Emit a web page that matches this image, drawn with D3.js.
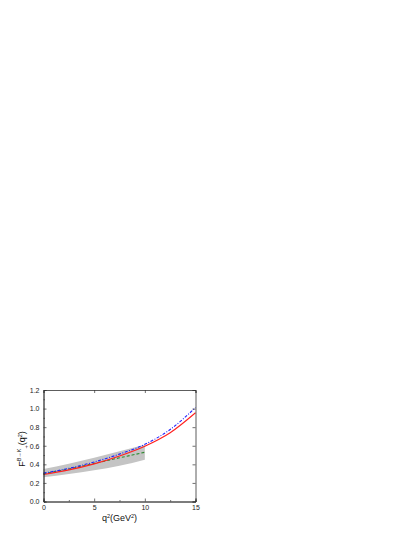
<!DOCTYPE html>
<meta charset="utf-8">
<style>
body { margin: 0; background: #fff; }
text { font-family: "Liberation Sans", Arial, sans-serif; }
</style>
<body>
<script src="https://d3js.org/d3.v7.min.js"></script>
<script>

// data
var q2 = [0, 2.5, 5, 7.5, 10, 12.5, 15];
var red = [0.29, 0.34, 0.405, 0.49, 0.595, 0.74, 0.955];
var blue = [0.305, 0.357, 0.425, 0.51, 0.615, 0.775, 1.01];
var q2short = [0, 2.5, 5, 7.5, 10];
var green = [0.30, 0.35, 0.41, 0.47, 0.53];
var bandHi = [0.35, 0.405, 0.47, 0.54, 0.61];
var bandLo = [0.26, 0.295, 0.335, 0.385, 0.45];
var xTicks = [0, 5, 10, 15];
var yTicks = [0, 0.2, 0.4, 0.6, 0.8, 1.0, 1.2];

var margin = {top: 390, left: 43.5},
    width = 152, height = 111.5;

var svg = d3.select("body").append("svg")
    .attr("width", 415).attr("height", 537);
var g = svg.append("g")
    .attr("transform", "translate(" + margin.left + "," + margin.top + ")");

var x = d3.scaleLinear().domain([0, 15]).range([0, width]);
var y = d3.scaleLinear().domain([0, 1.2]).range([height, 0]);

// band
var area = d3.area()
    .x(function(d, i) { return x(q2short[i]); })
    .y0(function(d, i) { return y(bandLo[i]); })
    .y1(function(d) { return y(d); })
    .curve(d3.curveMonotoneX);
g.append("path").datum(bandHi)
    .attr("d", area).attr("fill", "#c4c4c4");

var line = function(xs) {
  return d3.line()
    .x(function(d, i) { return x(xs[i]); })
    .y(function(d) { return y(d); })
    .curve(d3.curveMonotoneX);
};

g.append("path").datum(green).attr("d", line(q2short))
    .attr("fill", "none").attr("stroke", "#2e8b2e").attr("stroke-width", 1.1)
    .attr("stroke-dasharray", "3,2");
g.append("path").datum(red).attr("d", line(q2))
    .attr("fill", "none").attr("stroke", "#ff2020").attr("stroke-width", 1.1);
g.append("path").datum(blue).attr("d", line(q2))
    .attr("fill", "none").attr("stroke", "#2020ff").attr("stroke-width", 1.1)
    .attr("stroke-dasharray", "3,1.5,1,1.5");

// axes, ticks pointing inward
var fs = 7;
var bottom = g.append("g").attr("transform", "translate(0," + height + ")")
    .call(d3.axisBottom(x).tickValues(xTicks).tickSize(-3).tickPadding(4).tickFormat(d3.format("d")));
bottom.append("g").call(d3.axisBottom(x).tickValues([2.5, 7.5, 12.5]).tickSize(-1.5).tickFormat(""));
var left = g.append("g")
    .call(d3.axisLeft(y).tickValues(yTicks).tickSize(-3).tickPadding(4).tickFormat(d3.format(".1f")));
left.append("g").call(d3.axisLeft(y).tickValues([0.1, 0.3, 0.5, 0.7, 0.9, 1.1]).tickSize(-1.5).tickFormat(""));
g.append("g").attr("transform", "translate(" + width + ",0)")
    .call(d3.axisRight(y).tickValues(yTicks).tickSize(-3).tickFormat(""));
g.append("g")
    .call(d3.axisTop(x).tickValues(xTicks).tickSize(-3).tickFormat(""));

g.selectAll(".domain").attr("stroke", "#333").attr("stroke-width", 0.8);
g.selectAll(".tick line").attr("stroke", "#333").attr("stroke-width", 0.7);
g.selectAll(".tick text").attr("font-size", fs).attr("fill", "#222")
    .attr("font-family", "Liberation Sans, Arial, sans-serif");

// axis titles
var xt = svg.append("text")
    .attr("x", margin.left + width / 2).attr("y", 521)
    .attr("text-anchor", "middle").attr("font-size", 9).attr("fill", "#111");
xt.append("tspan").text("q");
xt.append("tspan").attr("dy", -3.5).attr("font-size", 5.5).text("2");
xt.append("tspan").attr("dy", 3.5).text("(GeV");
xt.append("tspan").attr("dy", -3.5).attr("font-size", 5.5).text("2");
xt.append("tspan").attr("dy", 3.5).text(")");

var yt = svg.append("text")
    .attr("transform", "translate(25,449) rotate(-90)")
    .attr("text-anchor", "middle").attr("font-size", 9).attr("fill", "#111");
yt.append("tspan").text("F");
yt.append("tspan").attr("dy", -4).attr("font-size", 5.5).text("B\u2192K");
yt.append("tspan").attr("dy", 7).attr("font-size", 5.5).text("+");
yt.append("tspan").attr("dy", -3).text("(q");
yt.append("tspan").attr("dy", -3.5).attr("font-size", 5.5).text("2");
yt.append("tspan").attr("dy", 3.5).text(")");

</script>
</body>
